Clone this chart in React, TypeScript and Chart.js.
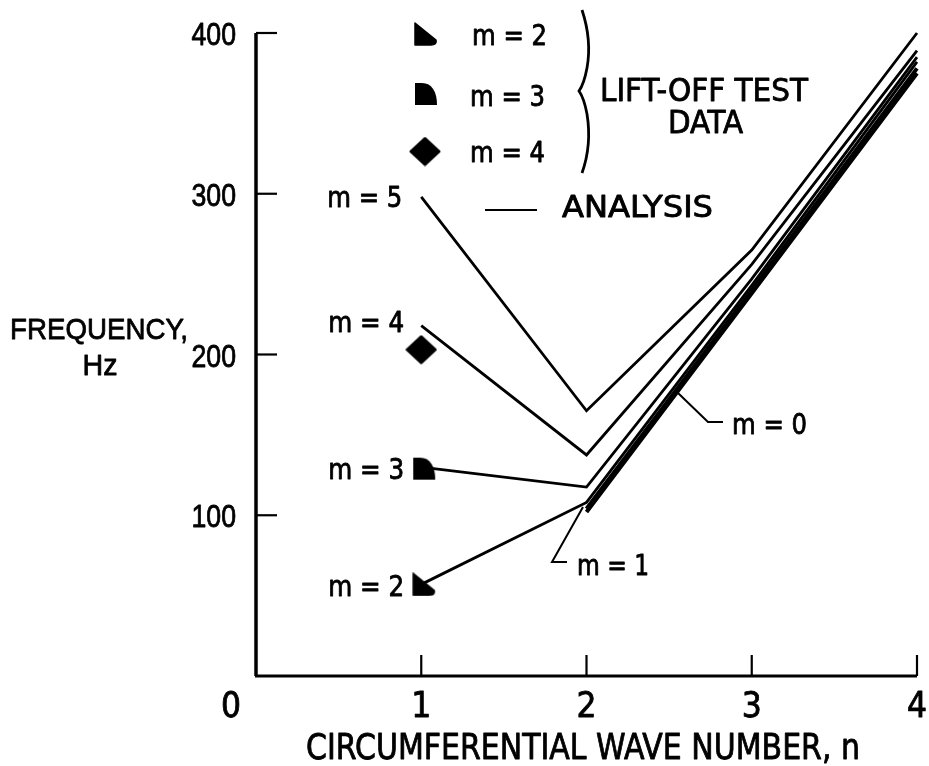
import React, { useEffect, useRef } from "react";
import { Chart, registerables } from "chart.js";

Chart.register(...registerables);

// ---- data ----
const waveNumbers = [1, 2, 3, 4];
const analysisModes = ["m = 5", "m = 4", "m = 3", "m = 2", "m = 1", "m = 0"];
const freqM5 = [298, 165, 265, 400];
const freqM4 = [218, 137.5, 256, 389];
const freqM3 = [130, 117.5, 247, 385];
const freqM2 = [57, 108, 243, 382];
const freqM1 = [null, 104, 240, 378];
const freqM0 = [null, 102, 238, 375];

const testModes = ["m = 2", "m = 3", "m = 4"];
const testWaveNumbers = [1, 1, 1];
const testFreqs = [57, 129, 203];

const xTickValues = [0, 1, 2, 3, 4];
const yTickValues = [100, 200, 300, 400];

const NARROW = '"Liberation Sans Narrow", "DejaVu Sans Condensed", "Liberation Sans", sans-serif';
const REGULAR = '"Liberation Sans", Arial, sans-serif';

function makeCanvas(w: number, h: number, draw: (c: CanvasRenderingContext2D) => void) {
  const cv = document.createElement("canvas");
  cv.width = w;
  cv.height = h;
  const c = cv.getContext("2d")!;
  c.fillStyle = "#000";
  c.strokeStyle = "#000";
  draw(c);
  return cv;
}

function makeMarkers() {
  const tri = makeCanvas(30, 24, (c) => {
    c.beginPath();
    c.moveTo(7, 1);
    c.lineTo(7, 23);
    c.lineTo(23, 23);
    c.quadraticCurveTo(29, 23, 28, 18);
    c.closePath();
    c.lineJoin = "round";
    c.lineWidth = 1.5;
    c.fill();
    c.stroke();
  });
  const quarter = makeCanvas(30, 24, (c) => {
    c.beginPath();
    c.moveTo(7, 1);
    c.lineTo(14, 1);
    c.bezierCurveTo(24, 1, 29, 10, 29, 23);
    c.lineTo(7, 23);
    c.closePath();
    c.fill();
  });
  const diamond = makeCanvas(32, 30, (c) => {
    c.beginPath();
    c.moveTo(16, 2);
    c.lineTo(30, 15);
    c.lineTo(16, 28);
    c.lineTo(2, 15);
    c.closePath();
    c.lineJoin = "round";
    c.lineWidth = 3;
    c.fill();
    c.stroke();
  });
  return [tri, quarter, diamond];
}

function drawText(
  ctx: CanvasRenderingContext2D,
  text: string,
  x: number,
  cy: number,
  size: number,
  family: string,
  align: "left" | "right" | "center",
  width?: number,
  sxFixed?: number
) {
  ctx.save();
  ctx.font = `${size}px ${family}`;
  const w = ctx.measureText(text).width;
  const sx = width ? width / w : sxFixed || 1;
  const drawnW = w * sx;
  const left = align === "left" ? x : align === "right" ? x - drawnW : x - drawnW / 2;
  ctx.translate(left, cy + size * 0.36);
  ctx.scale(sx, 1);
  ctx.textAlign = "left";
  ctx.textBaseline = "alphabetic";
  ctx.fillStyle = "#000";
  ctx.strokeStyle = "#000";
  ctx.lineWidth = 0.8;
  ctx.lineJoin = "round";
  ctx.fillText(text, 0, 0);
  ctx.strokeText(text, 0, 0);
  ctx.restore();
}

function line(ctx: CanvasRenderingContext2D, pts: number[][], w: number) {
  ctx.save();
  ctx.strokeStyle = "#000";
  ctx.lineWidth = w;
  ctx.beginPath();
  ctx.moveTo(pts[0][0], pts[0][1]);
  for (let i = 1; i < pts.length; i++) ctx.lineTo(pts[i][0], pts[i][1]);
  ctx.stroke();
  ctx.restore();
}

export default function App() {
  const ref = useRef<HTMLCanvasElement>(null);

  useEffect(() => {
    document.body.style.margin = "0";
    const canvas = ref.current!;
    const markers = makeMarkers();

    const series = [freqM5, freqM4, freqM3, freqM2, freqM1, freqM0];
    const analysisSets = series.map((vals, i) => ({
      label: analysisModes[i],
      data: waveNumbers
        .map((n, j) => ({ x: n, y: vals[j] }))
        .filter((p) => p.y !== null),
      showLine: true,
      borderColor: "#000",
      backgroundColor: "#000",
      borderWidth: i >= 4 ? 4 : 2.8,
      pointRadius: 0,
      clip: false as any,
    }));
    const testSets = testModes.map((m, i) => ({
      label: "test " + m,
      data: [{ x: testWaveNumbers[i], y: testFreqs[i] }],
      showLine: false,
      pointStyle: markers[i] as any,
      pointRadius: 10,
      clip: false as any,
    }));

    const deco = {
      id: "deco",
      beforeDatasetsDraw(chart: any) {
        const ctx: CanvasRenderingContext2D = chart.ctx;
        const xs = chart.scales.x;
        const ys = chart.scales.y;
        const x0 = xs.getPixelForValue(0);
        const x4 = xs.getPixelForValue(4);
        const y0 = ys.getPixelForValue(0);
        const yTop = ys.getPixelForValue(400);
        line(ctx, [[x0, yTop], [x0, y0]], 3.5);
        line(ctx, [[x0 - 1, y0], [x4, y0]], 3);
        yTickValues.forEach((t) => {
          const py = ys.getPixelForValue(t);
          line(ctx, [[x0, py], [x0 + 21, py]], 2.2);
        });
        xTickValues.forEach((t) => {
          if (t === 0) return;
          const px = xs.getPixelForValue(t);
          line(ctx, [[px, y0], [px, y0 - 21]], 2.2);
        });
      },
      afterDraw(chart: any) {
        const ctx: CanvasRenderingContext2D = chart.ctx;
        const xs = chart.scales.x;
        const ys = chart.scales.y;
        const x0 = xs.getPixelForValue(0);
        const y0 = ys.getPixelForValue(0);

        // tick labels
        yTickValues.forEach((t) => {
          drawText(ctx, String(t), x0 - 20, ys.getPixelForValue(t) + 1, 31, REGULAR, "right", undefined, 0.86);
        });
        xTickValues.forEach((t) => {
          const px = t === 0 ? x0 - 25 : xs.getPixelForValue(t);
          drawText(ctx, String(t), px, y0 + 28, 35, NARROW, "center");
        });

        // axis titles
        drawText(ctx, "CIRCUMFERENTIAL WAVE NUMBER, n", 306, 746, 36, NARROW, "left", 554);
        drawText(ctx, "FREQUENCY,", 10, 328, 30, REGULAR, "left", 178);
        drawText(ctx, "Hz", 100, 364, 30, REGULAR, "center", 35);

        // curve labels
        const px1 = xs.getPixelForValue(1);
        drawText(ctx, analysisModes[0], px1 - 19, 197, 29, NARROW, "right", 75);
        drawText(ctx, analysisModes[1], px1 - 17, 322, 29, NARROW, "right", 76);
        drawText(ctx, analysisModes[2], px1 - 17, 469, 29, NARROW, "right", 76);
        drawText(ctx, analysisModes[3], px1 - 17, 586, 29, NARROW, "right", 76);
        drawText(ctx, analysisModes[4], 577, 565, 29, NARROW, "left", 72);
        drawText(ctx, analysisModes[5], 732, 424, 29, NARROW, "left", 75);
        line(ctx, [[583, 507], [552, 562], [567, 562]], 2);
        line(ctx, [[678, 393], [708, 422], [723, 422]], 2);

        // legend
        ctx.drawImage(markers[0], 408, 22);
        ctx.drawImage(markers[1], 408, 82);
        ctx.drawImage(markers[2], 425 - 16, 151.5 - 15);
        drawText(ctx, testModes[0], 472, 35, 29, NARROW, "left", 75);
        drawText(ctx, testModes[1], 470, 96, 29, NARROW, "left", 75);
        drawText(ctx, testModes[2], 470, 152, 29, NARROW, "left", 75);

        ctx.save();
        ctx.strokeStyle = "#000";
        ctx.lineWidth = 2.8;
        ctx.beginPath();
        ctx.moveTo(582, 10);
        ctx.quadraticCurveTo(592, 40, 587, 68);
        ctx.quadraticCurveTo(584, 84, 579, 91);
        ctx.quadraticCurveTo(584, 98, 587, 114);
        ctx.quadraticCurveTo(592, 145, 582, 173);
        ctx.stroke();
        ctx.restore();

        drawText(ctx, "LIFT-OFF TEST", 600, 89, 32, NARROW, "left", 208);
        drawText(ctx, "DATA", 668, 121, 32, NARROW, "left", 75);
        line(ctx, [[485, 210], [537, 210]], 2.2);
        drawText(ctx, "ANALYSIS", 562, 206, 31, NARROW, "left", 151);
      },
    };

    const chart = new Chart(canvas, {
      type: "scatter",
      data: { datasets: [...analysisSets, ...testSets] as any },
      options: {
        animation: false,
        responsive: false,
        maintainAspectRatio: false,
        layout: { padding: { left: 256, right: 12, top: 33, bottom: 90 } },
        plugins: { legend: { display: false }, tooltip: { enabled: false } },
        events: [],
        elements: { line: { tension: 0 } },
        scales: {
          x: { type: "linear", min: 0, max: 4, display: false },
          y: { type: "linear", min: 0, max: 400, display: false },
        },
      },
      plugins: [deco],
    });
    return () => chart.destroy();
  }, []);

  return (
    <div style={{ width: 929, height: 766, background: "#fff" }}>
      <canvas ref={ref} width={929} height={766} style={{ display: "block" }} />
    </div>
  );
}
